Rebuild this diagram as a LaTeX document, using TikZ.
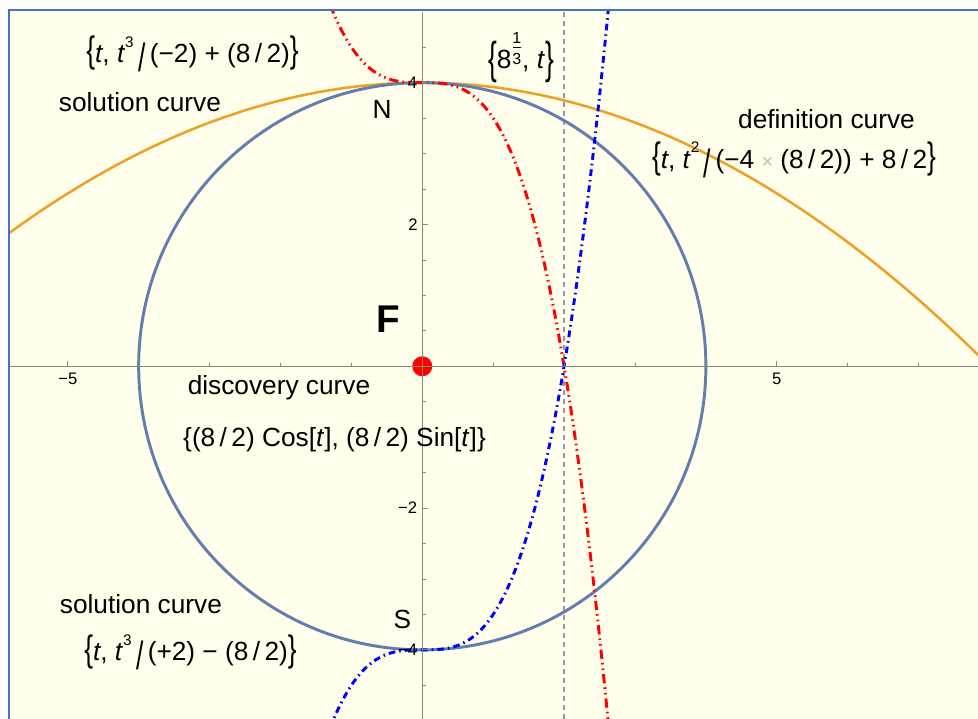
\documentclass[tikz,border=0pt]{standalone}
\usepackage{fontspec}
\setmainfont{Liberation Sans}
\usepackage{graphicx}
\definecolor{bgyellow}{RGB}{255,255,236}
\definecolor{framblue}{RGB}{68,114,196}
\definecolor{circblue}{RGB}{98,126,172}
\definecolor{parorange}{RGB}{238,160,40}
\definecolor{axgray}{RGB}{140,135,125}
\definecolor{vdash}{RGB}{160,145,180}
\definecolor{timesgray}{RGB}{200,185,175}
\newcommand{\vt}{\textit{t}}
\newcommand{\Lb}{\scalebox{1}[1.4]{\{}}
\newcommand{\Rb}{\scalebox{1}[1.4]{\}}}
\newcommand{\LLb}{\raisebox{-0.2em}{\scalebox{1}[1.7]{\{}}}
\newcommand{\RRb}{\raisebox{-0.2em}{\scalebox{1}[1.7]{\}}}}
\newcommand{\Bsl}{\raisebox{-0.34em}{\scalebox{1}[1.5]{/}}}
\newcommand{\sups}[1]{\raisebox{0.6em}{\fontsize{11.5}{11}\selectfont #1}}
\newcommand{\msl}{\,/\,}
\newcommand{\third}{{\fontsize{12}{12}\selectfont\makebox[8pt]{\makebox[0pt]{\raisebox{18.5pt}{1}}\makebox[0pt]{\raisebox{3.2pt}{3}}\makebox[0pt]{\raisebox{15.6pt}{\rule{6.5pt}{0.6pt}}}}}}
\begin{document}
\begin{tikzpicture}[x=53.175pt,y=53.175pt,
  lbl/.style={font=\fontsize{19.7}{23}\selectfont, inner sep=0pt, anchor=base},
  ticklbl/.style={font=\fontsize{12.5}{14}\selectfont, inner sep=0pt},
  axisline/.style={axgray, line width=0.75pt},
  tickline/.style={axgray, line width=0.6pt}]
\useasboundingbox (-5.956,-4.975) rectangle (7.838,5.166);
\fill[white] (-5.956,-4.975) rectangle (7.838,5.166);
\fill[bgyellow] (-5.829,-4.975) rectangle (7.838,5.026);
\begin{scope}
\clip (-5.829,-4.975) rectangle (7.838,5.026);
\draw[vdash, line width=1.1pt, dash pattern=on 3.75pt off 3pt] (2,-4.975) -- (2,5.026);
\draw[parorange, line width=1.9pt, domain=-5.9:7.9, samples=120] plot (\x, {4-\x*\x/16});
\draw[circblue, line width=2.2pt] (0,0) circle (4);
\draw[red, line width=2.2pt, dash pattern=on 7pt off 3pt on 1.2pt off 3pt on 1.2pt off 3pt, domain=-1.3:2.65, samples=200] plot (\x, {4-\x*\x*\x/2});
\draw[blue, line width=2.2pt, dash pattern=on 5pt off 3pt on 1.2pt off 3pt, domain=-1.3:2.65, samples=200] plot (\x, {\x*\x*\x/2-4});
\node[circle, fill=red, minimum size=15pt, inner sep=0pt] (focus) at (0,0) {};
\end{scope}
\draw[axisline] (-5.829,0) -- (7.838,0);
\draw[axisline] (0,-4.975) -- (0,5.0);
\foreach \i in {-5,5} \draw[tickline] (\i,0) -- (\i,0.07);
\foreach \i in {-4,-3,-2,-1,1,2,3,4,6,7} \draw[tickline] (\i,0) -- (\i,0.045);
\foreach \j in {-4,-2,2,4} \draw[tickline] (0,\j) -- (0.08,\j);
\foreach \j in {-4.5,-3.5,-3,-2.5,-1.5,-1,-0.5,0.5,1,1.5,2.5,3,3.5,4.5} \draw[tickline] (0,\j) -- (0.05,\j);
\draw[framblue, line width=1.8pt] (-5.829,-4.975) -- (-5.829,5.026) -- (7.838,5.026);
\node[ticklbl, anchor=base] (xm5) at (-5,-0.264) {−5};
\node[ticklbl, anchor=base] (xp5) at (5,-0.264) {5};
\node[ticklbl, anchor=east] (y4) at (-0.07,4) {4};
\node[ticklbl, anchor=east] (y2) at (-0.06,2) {2};
\node[ticklbl, anchor=east] (ym2) at (-0.07,-2) {−2};
\node[ticklbl, anchor=east] (ym4) at (-0.07,-4) {−4};
\node[lbl] (f1) at (-3.24,4.278) {\Lb\vt, \vt\sups{3}\,\Bsl\,(−2) + (8\msl 2)\Rb};
\node[lbl] (sol1) at (-3.982,3.590) {solution curve};
\node[lbl] (f2) at (1.392,4.203) {\LLb 8\third, \vt\RRb};
\node[lbl] (N) at (-0.568,3.488) {N};
\node[lbl] (defc) at (5.701,3.357) {definition curve};
\node[lbl] (f3) at (5.243,2.793) {\Lb\vt, \vt\sups{2}\,\Bsl\,(−4 {\color{timesgray}\fontsize{15}{15}\selectfont ×} (8\msl 2)) + 8\msl 2\Rb};
\node[lbl, font=\fontsize{29}{30}\selectfont\bfseries] (F) at (-0.484,0.470) {F};
\node[lbl] (disc) at (-2.021,-0.405) {discovery curve};
\node[lbl] (f4) at (-1.238,-1.134) {\{(8\msl 2) Cos[\vt], (8\msl 2) Sin[\vt]\}};
\node[lbl] (sol2) at (-3.968,-3.484) {solution curve};
\node[lbl] (S) at (-0.279,-3.705) {S};
\node[lbl] (f5) at (-3.269,-4.157) {\Lb\vt, \vt\sups{3}\,\Bsl\,(+2) − (8\msl 2)\Rb};
\end{tikzpicture}
\end{document}
